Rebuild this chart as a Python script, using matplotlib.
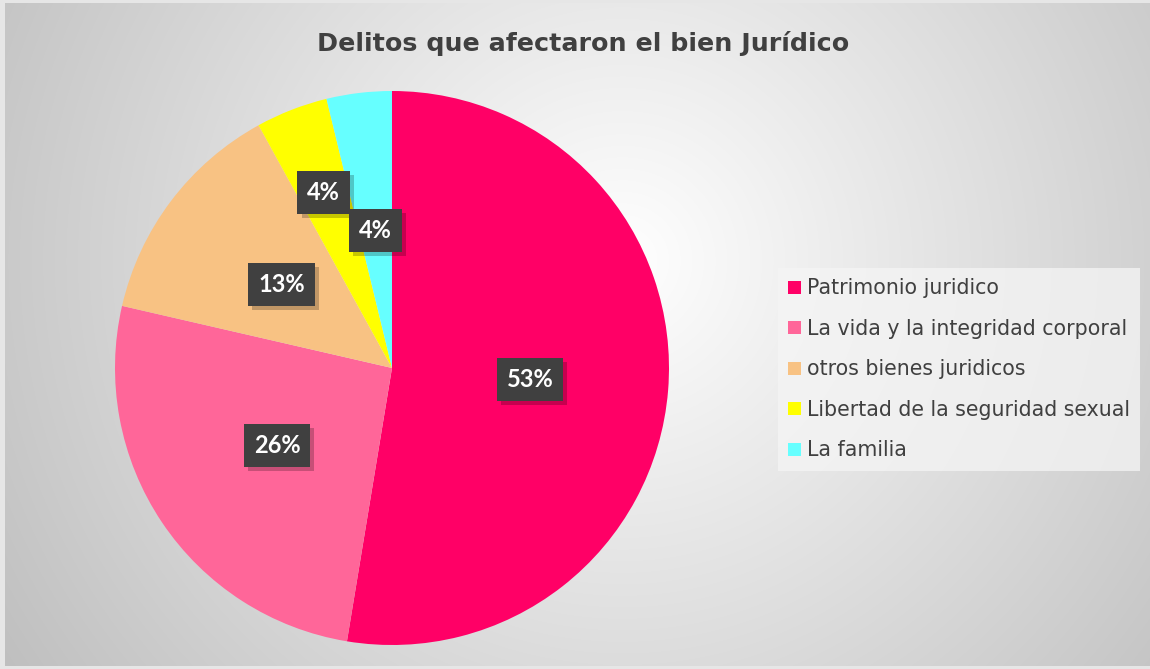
import numpy as np
import matplotlib
matplotlib.use("Agg")
import matplotlib.pyplot as plt
from matplotlib import patheffects as pe

# ---- data ----
categories = ["Patrimonio juridico", "La vida y la integridad corporal",
              "otros bienes juridicos", "Libertad de la seguridad sexual", "La familia"]
values = [52.6, 26.0, 13.4, 4.2, 3.8]
colors = ["#FF0066", "#FF6699", "#F8C283", "#FFFF00", "#66FFFF"]
title = "Delitos que afectaron el bien Jurídico"

W, H = 1150, 669
fig = plt.figure(figsize=(W / 100, H / 100), dpi=100)
fig.patch.set_facecolor("#e6e6e6")

# background radial gradient
bg = fig.add_axes([5 / W, 3 / H, (W - 5) / W, (H - 6) / H])
bg.set_axis_off()
yy, xx = np.mgrid[0:H, 0:W]
cx, cy = 620, 260
d = np.sqrt((xx - cx) ** 2 + (yy - cy) ** 2)
d = d / d.max()
v = 1.0 - 0.25 * np.clip(d, 0, 1) ** 1.0
img = np.dstack([v, v, v])
bg.imshow(img, aspect="auto", extent=[0, 1, 0, 1], origin="upper")

fig.text(583 / W, 1 - 44 / H, title, ha="center", va="center",
         fontsize=18.3, fontweight="bold", color="#404040", family="DejaVu Sans")

# pie axes: center (392,368), radius 277
cxp, cyp, r = 392, 368, 277
ax = fig.add_axes([(cxp - r) / W, (H - cyp - r) / H, 2 * r / W, 2 * r / H])
ax.set_axis_off()
wedges, texts, autotexts = ax.pie(values, colors=colors, startangle=90, counterclock=False,
                                  autopct=lambda p: f"{p:.0f}%", pctdistance=0.5,
                                  radius=1.0, wedgeprops=dict(linewidth=0))
ax.set_xlim(-1, 1)
ax.set_ylim(-1, 1)
ax.set_aspect("equal")

# yellow label sits further out
x, y = autotexts[3].get_position()
autotexts[3].set_position((x * 0.68 / 0.5, y * 0.68 / 0.5))

for t in autotexts:
    t.set_color("white")
    t.set_fontsize(17)
    t.set_fontweight("bold")
    t.set_family("Lato")
    t.set_bbox(dict(boxstyle="square,pad=0.42", fc="#404040", ec="none"))
    t.get_bbox_patch().set_path_effects([
        pe.SimplePatchShadow(offset=(3, -3), shadow_rgbFace="black", alpha=0.22),
        pe.Normal()])

leg = fig.legend(wedges, categories, loc="upper left",
                 bbox_to_anchor=(778 / W, 1 - 268 / H), frameon=True,
                 prop=dict(family="DejaVu Sans", size=14.8), labelcolor="#404040",
                 handlelength=0.6, handleheight=0.6, handletextpad=0.3,
                 labelspacing=1.0, borderpad=0.5, borderaxespad=0,
                 fancybox=False)
leg.get_frame().set_facecolor("#f5f5f5")
leg.get_frame().set_alpha(0.75)
leg.get_frame().set_edgecolor("none")

fig.savefig("out.png", dpi=100, facecolor=fig.get_facecolor())
